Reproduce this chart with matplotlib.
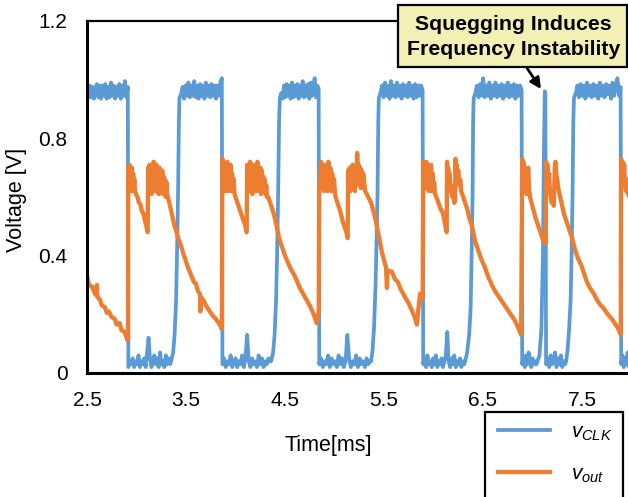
import numpy as np
import matplotlib
matplotlib.use("Agg")
import matplotlib.pyplot as plt
from matplotlib.patches import Rectangle, FancyArrowPatch

plt.rcParams['font.family'] = ['Liberation Sans', 'DejaVu Sans']
plt.rcParams['mathtext.fontset'] = 'custom'
plt.rcParams['mathtext.it'] = 'Liberation Sans:italic'
plt.rcParams['mathtext.rm'] = 'Liberation Sans'

# ---------------- data ----------------
x_ticks = [2.5, 3.5, 4.5, 5.5, 6.5, 7.5]
x_tick_labels = ["2.5", "3.5", "4.5", "5.5", "6.5", "7.5"]
y_ticks = [0, 0.4, 0.8, 1.2]
y_tick_labels = ["0", "0.4", "0.8", "1.2"]
series_names = [r"$v_{CLK}$", r"$v_{out}$"]

# vCLK high phases: (start, end) and sampled levels
clk_high_span = [(2.500, 2.912), (3.436, 3.862), (4.450, 4.840),
                 (5.450, 5.890), (6.408, 6.890), (7.421, 7.890)]
clk_high = [
    [0.965, 0.94, 0.98, 0.94, 0.975, 0.935, 0.97, 0.985, 0.94, 0.98, 0.935, 0.98, 0.945, 0.985, 0.935,
     0.975, 0.94, 0.99, 0.945, 0.98, 0.935, 0.975, 0.945, 0.985, 0.935, 0.98, 0.945, 0.995, 0.94, 0.975],
    [0.94, 0.95, 0.975, 0.935, 0.98, 0.945, 0.99, 0.94, 0.98, 0.945, 0.995, 0.94, 0.98, 0.935, 0.985,
     0.945, 0.98, 0.935, 0.99, 0.945, 0.98, 0.94, 0.985, 0.945, 0.98, 0.935, 0.98, 0.945, 0.99, 1.005],
    [0.94, 0.955, 0.935, 0.98, 0.94, 0.985, 0.945, 0.98, 0.935, 0.99, 0.94, 0.98, 0.945, 0.985, 0.935,
     0.98, 0.945, 0.995, 0.94, 0.98, 0.945, 0.985, 0.935, 0.99, 0.945, 0.98, 1.005, 0.94, 0.98, 0.97],
    [0.94, 0.955, 0.98, 0.94, 0.99, 0.945, 0.98, 0.935, 0.995, 0.945, 0.98, 0.94, 0.99, 0.945, 0.98,
     0.935, 0.985, 0.945, 0.98, 0.94, 0.99, 0.945, 0.98, 0.935, 0.985, 0.94, 0.98, 0.945, 0.98, 0.965],
    [0.94, 0.955, 0.98, 0.94, 0.985, 0.945, 1.005, 0.94, 0.98, 0.945, 0.99, 0.935, 0.98, 0.945, 0.99,
     0.94, 0.98, 0.945, 0.985, 0.935, 0.98, 0.945, 0.99, 0.94, 0.98, 0.945, 0.985, 0.935, 0.98, 0.945,
     0.98, 0.965],
    [0.94, 0.955, 0.98, 0.94, 0.985, 0.945, 0.98, 0.935, 0.99, 0.945, 0.98, 0.94, 0.985, 0.945, 0.98,
     0.935, 0.99, 0.945, 0.98, 0.94, 0.985, 0.95, 0.98, 0.935, 0.99, 0.945, 0.98, 1.005, 0.945, 0.975],
]

# vCLK low phases
clk_low_span = [(2.918, 3.340), (3.868, 4.350), (4.846, 5.360), (5.896, 6.310),
                (6.896, 7.040), (7.140, 7.330), (7.896, 8.000)]
clk_low = [
    [0.02, 0.04, 0.03, 0.05, 0.02, 0.04, 0.03, 0.06, 0.02, 0.04, 0.03, 0.05, 0.02, 0.07, 0.12,
     0.05, 0.02, 0.04, 0.06, 0.03, 0.05, 0.02, 0.07, 0.03, 0.04, 0.02, 0.06, 0.03, 0.05, 0.03],
    [0.03, 0.05, 0.02, 0.04, 0.03, 0.06, 0.02, 0.04, 0.05, 0.02, 0.04, 0.03, 0.06, 0.02, 0.05,
     0.13, 0.04, 0.02, 0.05, 0.03, 0.04, 0.02, 0.06, 0.03, 0.05, 0.02, 0.04, 0.03, 0.05, 0.04],
    [0.03, 0.05, 0.02, 0.04, 0.03, 0.06, 0.02, 0.05, 0.03, 0.04, 0.02, 0.06, 0.03, 0.05, 0.02,
     0.04, 0.13, 0.05, 0.02, 0.04, 0.03, 0.06, 0.02, 0.05, 0.03, 0.04, 0.02, 0.05, 0.03, 0.04],
    [0.03, 0.05, 0.02, 0.06, 0.03, 0.04, 0.02, 0.05, 0.03, 0.06, 0.02, 0.04, 0.03, 0.05, 0.02,
     0.04, 0.06, 0.14, 0.04, 0.02, 0.05, 0.03, 0.06, 0.02, 0.04, 0.03, 0.05, 0.02, 0.04, 0.03],
    [0.03, 0.05, 0.02, 0.06, 0.03, 0.07, 0.04, 0.02, 0.05, 0.03, 0.04, 0.03],
    [0.03, 0.05, 0.02, 0.06, 0.03, 0.04, 0.07, 0.02, 0.05, 0.03, 0.06, 0.02, 0.04, 0.03],
    [0.03, 0.06, 0.02, 0.05, 0.03, 0.07, 0.02, 0.05, 0.03],
]

# vCLK rising edges (the 5th one is the squegging pulse)
clk_edge_t = [
    [3.350, 3.370, 3.385, 3.400, 3.410, 3.420, 3.428, 3.433],
    [4.360, 4.380, 4.395, 4.410, 4.420, 4.430, 4.440, 4.447],
    [5.370, 5.385, 5.400, 5.415, 5.425, 5.435, 5.442, 5.447],
    [6.320, 6.340, 6.360, 6.375, 6.385, 6.395, 6.400, 6.405],
    [7.050, 7.070, 7.090, 7.105, 7.115, 7.124, 7.130, 7.134, 7.137],
    [7.340, 7.355, 7.370, 7.385, 7.395, 7.405, 7.412, 7.418],
]
clk_edge_v = [
    [0.04, 0.07, 0.13, 0.25, 0.42, 0.62, 0.85, 0.93],
    [0.04, 0.07, 0.13, 0.25, 0.40, 0.60, 0.85, 0.93],
    [0.04, 0.08, 0.16, 0.30, 0.45, 0.62, 0.85, 0.93],
    [0.04, 0.07, 0.13, 0.22, 0.40, 0.62, 0.85, 0.93],
    [0.04, 0.06, 0.15, 0.40, 0.75, 0.96, 0.95, 0.50, 0.03],
    [0.04, 0.08, 0.15, 0.25, 0.40, 0.62, 0.85, 0.93],
]

# vout: noisy plateau spans after each jump
out_plateau_span = [(2.916, 2.985), (3.117, 3.310), (3.867, 3.990), (4.118, 4.318),
                    (4.845, 5.005), (5.138, 5.290), (5.896, 6.015)]
out_plateau = [
    [0.70, 0.64, 0.71, 0.62, 0.69, 0.63, 0.70, 0.62, 0.68, 0.64, 0.66, 0.62],
    [0.70, 0.63, 0.71, 0.62, 0.69, 0.61, 0.70, 0.64, 0.72, 0.62, 0.68, 0.63, 0.71, 0.62,
     0.69, 0.61, 0.70, 0.63, 0.68, 0.62, 0.69, 0.61, 0.67, 0.62, 0.66, 0.60, 0.65, 0.61],
    [0.73, 0.65, 0.71, 0.62, 0.70, 0.64, 0.72, 0.62, 0.69, 0.63, 0.71, 0.62, 0.68, 0.63, 0.66, 0.61],
    [0.71, 0.63, 0.70, 0.62, 0.72, 0.64, 0.69, 0.61, 0.71, 0.63, 0.70, 0.62, 0.69, 0.64,
     0.72, 0.62, 0.68, 0.63, 0.70, 0.61, 0.69, 0.62, 0.67, 0.63, 0.66, 0.61, 0.64, 0.60],
    [0.62, 0.66, 0.72, 0.64, 0.70, 0.62, 0.71, 0.63, 0.69, 0.62, 0.72, 0.64, 0.70, 0.62,
     0.68, 0.63, 0.66, 0.61],
    [0.69, 0.63, 0.70, 0.62, 0.68, 0.64, 0.71, 0.63, 0.69, 0.62, 0.70, 0.66, 0.75, 0.67,
     0.71, 0.64, 0.70, 0.63, 0.69, 0.64, 0.68],
    [0.72, 0.66, 0.71, 0.63, 0.72, 0.65, 0.70, 0.62, 0.69, 0.64, 0.71, 0.62, 0.68, 0.63, 0.65, 0.61],
]

# vout: decays / saw-teeth between plateaus (time, value)
out_seg_t = [
    [2.500, 2.520, 2.550, 2.580, 2.595, 2.600, 2.605, 2.630, 2.650, 2.680, 2.700, 2.720, 2.750,
     2.780, 2.800, 2.830, 2.850, 2.880, 2.900, 2.914],
    [2.995, 3.010, 3.025, 3.040, 3.055, 3.070, 3.085, 3.100, 3.113],
    [3.325, 3.345, 3.365, 3.385, 3.405, 3.425, 3.445, 3.470, 3.490, 3.520, 3.550, 3.580, 3.600,
     3.620, 3.640, 3.645, 3.650, 3.680, 3.710, 3.740, 3.770, 3.800, 3.830, 3.850, 3.862],
    [4.000, 4.020, 4.040, 4.060, 4.080, 4.100, 4.113],
    [4.330, 4.350, 4.380, 4.410, 4.440, 4.470, 4.500, 4.550, 4.600, 4.650, 4.700, 4.750, 4.790,
     4.820, 4.835, 4.841],
    [5.020, 5.040, 5.060, 5.080, 5.100, 5.120, 5.133],
    [5.310, 5.340, 5.370, 5.410, 5.440, 5.480, 5.520, 5.530, 5.535, 5.580, 5.610, 5.640, 5.670,
     5.710, 5.745, 5.780, 5.810, 5.833, 5.848, 5.865, 5.880, 5.891],
    [6.030, 6.050, 6.070, 6.096, 6.115, 6.133, 6.137, 6.142, 6.148, 6.155, 6.162, 6.170, 6.180,
     6.190, 6.200, 6.210, 6.218, 6.222, 6.228, 6.235, 6.242, 6.250, 6.260, 6.270, 6.280, 6.300,
     6.320, 6.340, 6.360, 6.390, 6.420, 6.450, 6.480, 6.520, 6.550, 6.590, 6.620, 6.660, 6.700,
     6.740, 6.780, 6.820, 6.855, 6.885],
    [6.896, 6.902, 6.908, 6.915, 6.922, 6.930, 6.940, 6.950, 6.957, 6.965, 6.975, 6.990, 7.010,
     7.030, 7.050, 7.070, 7.090, 7.110, 7.133],
    [7.138, 7.145, 7.152, 7.160, 7.168, 7.176, 7.185, 7.195, 7.205, 7.215, 7.225, 7.232, 7.240,
     7.250, 7.260, 7.280, 7.300, 7.320, 7.340, 7.360, 7.380, 7.400, 7.430, 7.460, 7.490, 7.520,
     7.550, 7.580, 7.620, 7.650, 7.680, 7.720, 7.760, 7.800, 7.830, 7.860, 7.880, 7.892],
    [7.895, 7.902, 7.910, 7.918, 7.926, 7.935, 7.945, 7.955, 7.965, 7.980, 8.000],
]
out_seg_v = [
    [0.33, 0.30, 0.295, 0.27, 0.265, 0.30, 0.26, 0.25, 0.23, 0.225, 0.205, 0.21, 0.19, 0.185,
     0.165, 0.17, 0.145, 0.14, 0.12, 0.11],
    [0.61, 0.60, 0.58, 0.575, 0.55, 0.545, 0.52, 0.50, 0.48],
    [0.59, 0.56, 0.53, 0.50, 0.48, 0.455, 0.44, 0.41, 0.39, 0.36, 0.335, 0.31, 0.305, 0.28, 0.27,
     0.21, 0.26, 0.245, 0.225, 0.21, 0.195, 0.185, 0.17, 0.16, 0.15],
    [0.60, 0.58, 0.56, 0.54, 0.52, 0.50, 0.48],
    [0.60, 0.58, 0.55, 0.51, 0.46, 0.43, 0.40, 0.36, 0.33, 0.29, 0.26, 0.23, 0.20, 0.17, 0.20, 0.21],
    [0.59, 0.57, 0.55, 0.52, 0.50, 0.48, 0.46],
    [0.62, 0.60, 0.58, 0.53, 0.48, 0.41, 0.36, 0.29, 0.35, 0.345, 0.32, 0.31, 0.285, 0.26, 0.24,
     0.215, 0.19, 0.165, 0.22, 0.27, 0.25, 0.26],
    [0.60, 0.58, 0.56, 0.545, 0.51, 0.48, 0.72, 0.66, 0.70, 0.64, 0.68, 0.62, 0.64, 0.60, 0.62,
     0.58, 0.59, 0.73, 0.67, 0.71, 0.65, 0.69, 0.64, 0.66, 0.62, 0.60, 0.58, 0.56, 0.53, 0.50,
     0.45, 0.42, 0.39, 0.36, 0.33, 0.30, 0.28, 0.26, 0.24, 0.22, 0.20, 0.18, 0.155, 0.13],
    [0.73, 0.67, 0.72, 0.65, 0.70, 0.63, 0.61, 0.66, 0.70, 0.63, 0.60, 0.58, 0.555, 0.53, 0.51,
     0.49, 0.47, 0.45, 0.44],
    [0.72, 0.67, 0.71, 0.64, 0.68, 0.62, 0.60, 0.58, 0.61, 0.57, 0.70, 0.72, 0.68, 0.66, 0.63,
     0.60, 0.57, 0.54, 0.52, 0.50, 0.48, 0.46, 0.42, 0.39, 0.37, 0.34, 0.31, 0.29, 0.27, 0.25,
     0.235, 0.22, 0.20, 0.185, 0.17, 0.155, 0.14, 0.13],
    [0.73, 0.67, 0.72, 0.65, 0.71, 0.64, 0.62, 0.66, 0.61, 0.60, 0.58],
]


def span(a, b, vals):
    return list(np.linspace(a, b, len(vals))), list(vals)


# assemble vCLK in time order
H = [span(a, b, v) for (a, b), v in zip(clk_high_span, clk_high)]
L = [span(a, b, v) for (a, b), v in zip(clk_low_span, clk_low)]
E = list(zip(clk_edge_t, clk_edge_v))
order = [H[0], L[0], E[0], H[1], L[1], E[1], H[2], L[2], E[2], H[3], L[3], E[3],
         H[4], L[4], E[4], L[5], E[5], H[5], L[6]]
clk_t, clk_v = [], []
for t, v in order:
    clk_t += list(t)
    clk_v += list(v)

# assemble vout in time order
P = [span(a, b, v) for (a, b), v in zip(out_plateau_span, out_plateau)]
S = list(zip(out_seg_t, out_seg_v))
order_out = [S[0], P[0], S[1], P[1], S[2], P[2], S[3], P[3], S[4], P[4], S[5], P[5], S[6],
             P[6], S[7], S[8], S[9], S[10]]
out_t, out_v = [], []
for t, v in order_out:
    out_t += list(t)
    out_v += list(v)

# ---------------- figure ----------------
W, Hh = 628, 497
fig = plt.figure(figsize=(W / 100, Hh / 100), dpi=100)
ax_l, ax_r, ax_t, ax_b = 87, 631.5, 21, 373
ax = fig.add_axes([ax_l / W, 1 - ax_b / Hh, (ax_r - ax_l) / W, (ax_b - ax_t) / Hh])

blue = "#5B9BD5"
orange = "#ED7D31"
l1, = ax.plot(clk_t, clk_v, color=blue, lw=2.7, solid_joinstyle='round', zorder=2)
l2, = ax.plot(out_t, out_v, color=orange, lw=3.1, solid_joinstyle='round', zorder=3)

ax.set_xlim(2.5, 8.0)
ax.set_ylim(0, 1.2)
ax.set_xticks(x_ticks)
ax.set_xticklabels(x_tick_labels)
ax.set_yticks(y_ticks)
ax.set_yticklabels(y_tick_labels)
ax.tick_params(axis='both', length=0, labelsize=15, colors='black')
ax.tick_params(axis='x', pad=13)
ax.tick_params(axis='y', pad=14)
for s in ['left', 'bottom']:
    ax.spines[s].set_linewidth(2.2)
    ax.spines[s].set_zorder(5)
ax.spines['top'].set_linewidth(1.6)
ax.spines['right'].set_linewidth(1.6)

fig.text(17 / W, 1 - 200 / Hh, "Voltage [V]", rotation=90, ha='center', va='center', fontsize=15.5)
fig.text(328 / W, 1 - 445 / Hh, "Time[ms]", ha='center', va='center', fontsize=15.5)

# annotation box
box = Rectangle((398 / W, 1 - 67 / Hh), 229 / W, 62 / Hh, transform=fig.transFigure,
                facecolor="#F3F0B5", edgecolor='black', lw=1.6, zorder=10)
fig.add_artist(box)
fig.text(513 / W, 1 - 30 / Hh, "Squegging Induces", ha='center', va='baseline',
         fontsize=15.3, fontweight='bold', zorder=11)
fig.text(514 / W, 1 - 55 / Hh, "Frequency Instability", ha='center', va='baseline',
         fontsize=15.3, fontweight='bold', zorder=11)
arrow = FancyArrowPatch((527 / W, 1 - 68 / Hh), (541 / W, 1 - 89 / Hh), transform=fig.transFigure,
                        arrowstyle='-|>', mutation_scale=16, lw=2.0, color='black', zorder=11,
                        shrinkA=0, shrinkB=0)
fig.add_artist(arrow)

# legend
frame = Rectangle((485 / W, 1 - 510 / Hh), 138 / W, 98 / Hh, transform=fig.transFigure,
                  facecolor='white', edgecolor='black', lw=1.6, zorder=10)
fig.add_artist(frame)
leg = fig.legend([l1, l2], series_names, loc='upper left',
                 bbox_to_anchor=(489 / W, 1 - 413 / Hh), bbox_transform=fig.transFigure,
                 frameon=False, fontsize=15, handlelength=2.5, handletextpad=1.0,
                 labelspacing=1.05, borderpad=0.45, borderaxespad=0)
leg.set_zorder(12)

fig.savefig("out.png", dpi=100)
